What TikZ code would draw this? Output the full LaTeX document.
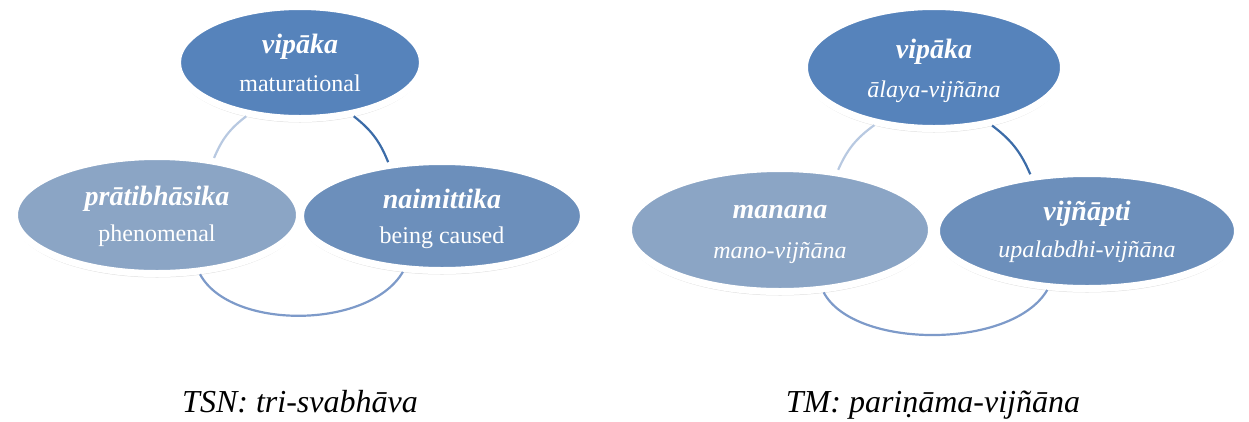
\documentclass[tikz,border=0pt]{standalone}
\usepackage{fontspec}
\setmainfont{Liberation Serif}
\usetikzlibrary{shapes.geometric,shadows}
\definecolor{cTop}{RGB}{86,131,187}
\definecolor{cLeft}{RGB}{139,165,197}
\definecolor{cRight}{RGB}{108,143,187}
\definecolor{arcA}{RGB}{184,201,225}
\definecolor{arcB}{RGB}{60,108,168}
\definecolor{arcC}{RGB}{125,154,201}
\begin{document}
\begin{tikzpicture}[x=1pt,y=-1pt,
  bubble/.style={ellipse, draw=white, line width=7pt, inner sep=0pt, outer sep=3.5pt,
    drop shadow={shadow xshift=0pt, shadow yshift=-4pt, opacity=0.25}},
  head/.style={anchor=base, inner sep=0pt, text=white, font=\fontsize{28}{31}\selectfont\bfseries\itshape},
  sub/.style={anchor=base, inner sep=0pt, text=white, font=\fontsize{24}{28}\selectfont},
  subit/.style={sub, font=\fontsize{24}{28}\selectfont\itshape},
  captext/.style={anchor=base, inner sep=0pt, text=black, font=\fontsize{32}{36}\selectfont\itshape},
  link/.style={line width=2.2pt}
]
\useasboundingbox (0,0) rectangle (1249,421);

% ---- left diagram ----
\node[bubble, fill=cTop, minimum width=245pt, minimum height=112pt] (vt) at (300,62.5) {};
\node[bubble, fill=cLeft, minimum width=285pt, minimum height=117pt] (pl) at (157,215) {};
\node[bubble, fill=cRight, minimum width=283pt, minimum height=109pt] (nm) at (442,216) {};

\draw[link, arcA] (vt.225) to[bend right=15] (pl.45);
\draw[link, arcB] (vt.315) to[bend left=15] (nm.135);
\draw[link, arcC] (pl.306) .. controls +(30,56) and +(-34,58) .. (nm.235);

\node[head] (vtA) at (300,53) {vipāka};
\node[sub] (vtB) at (300,91) {maturational};
\node[head] (plA) at (157,205) {prātibhāsika};
\node[sub] (plB) at (157,241) {phenomenal};
\node[head] (nmA) at (442,208) {naimittika};
\node[sub] (nmB) at (442,243) {being caused};

% ---- right diagram ----
\node[bubble, fill=cTop, minimum width=259pt, minimum height=122pt] (rv) at (934,67.5) {};
\node[bubble, fill=cLeft, minimum width=303pt, minimum height=123pt] (mn) at (780,230) {};
\node[bubble, fill=cRight, minimum width=301pt, minimum height=115pt] (vj) at (1087,231) {};

\draw[link, arcA] (rv.224) to[bend right=15] (mn.46);
\draw[link, arcB] (rv.315) to[bend left=15] (vj.135);
\draw[link, arcC] (mn.305) .. controls +(30,57) and +(-35,60) .. (vj.236);

\node[head] (rvA) at (934,58) {vipāka};
\node[subit] (rvB) at (934,97) {ālaya-vijñāna};
\node[head] (mnA) at (780,218) {manana};
\node[subit] (mnB) at (780,258) {mano-vijñāna};
\node[head] (vjA) at (1087,220) {vijñāpti};
\node[subit] (vjB) at (1087,257) {upalabdhi-vijñāna};

% ---- captions ----
\node[captext] (capL) at (300,412) {TSN: tri-svabhāva};
\node[captext] (capR) at (933,412) {TM: pariṇāma-vijñāna};
\end{tikzpicture}
\end{document}
